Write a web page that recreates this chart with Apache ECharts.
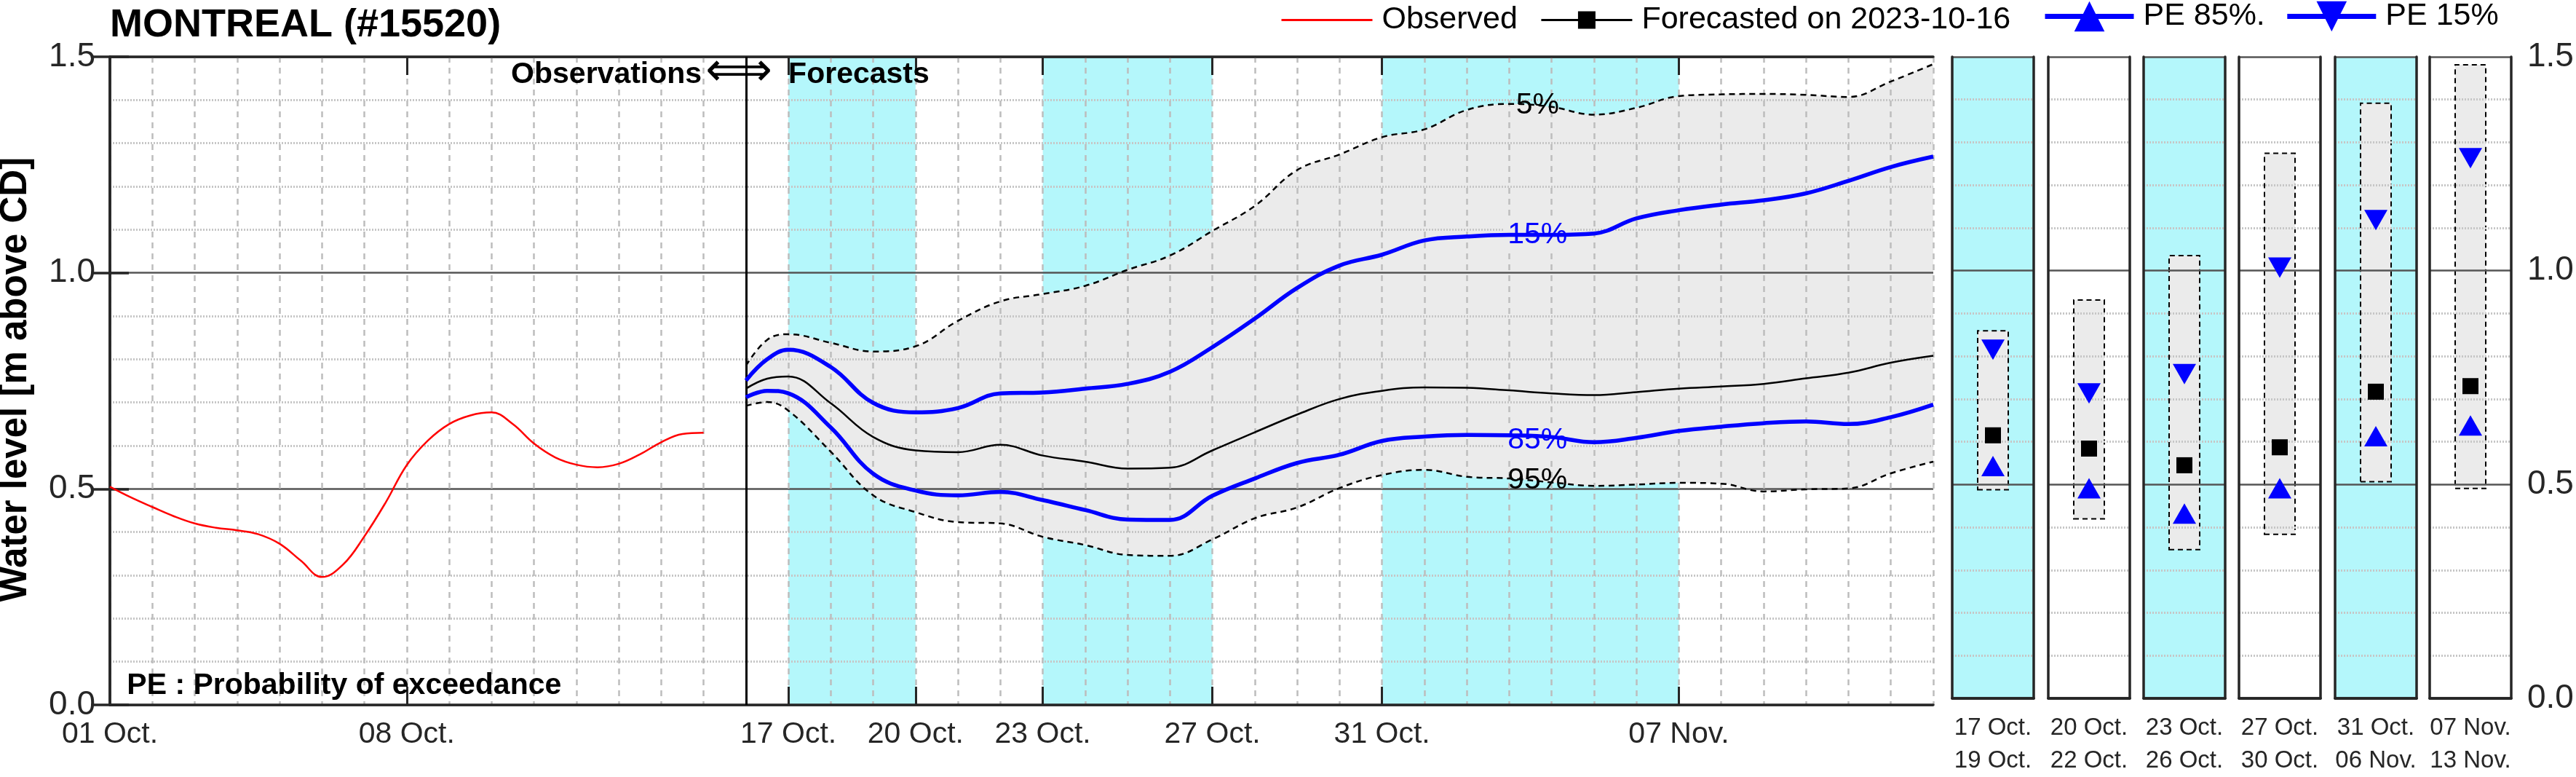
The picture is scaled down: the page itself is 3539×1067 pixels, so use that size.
<!DOCTYPE html>
<html>
<head>
<meta charset="utf-8">
<script src="https://cdn.jsdelivr.net/npm/echarts@6/dist/echarts.min.js"></script>
<style>
    html, body { margin: 0; padding: 0; background: #fff; }
    #main { width: 3539px; height: 1067px; }
</style>
</head>
<body>
<div id="main"></div>
<script type="text/javascript">
    // observed water level, x = day of October (fractional)
    var obsDay = [1, 1.5, 2, 2.5, 3, 3.5, 4, 4.5, 5, 5.5, 6, 6.5, 7, 7.5, 8, 8.5, 9, 9.5, 10, 10.5, 11, 11.5, 12, 12.5, 13, 13.5, 14, 14.5, 15];
    var obsLevel = [0.505, 0.480, 0.458, 0.437, 0.420, 0.410, 0.404, 0.395, 0.373, 0.334, 0.296, 0.325, 0.390, 0.468, 0.555,
                    0.612, 0.650, 0.670, 0.677, 0.650, 0.605, 0.573, 0.556, 0.550, 0.558, 0.580, 0.608, 0.627, 0.630];

    // forecast issued 2023-10-16
    var fcDates = ['2023-10-16 00', '2023-10-16 12', '2023-10-17', '2023-10-18', '2023-10-19', '2023-10-20', '2023-10-21',
                   '2023-10-22', '2023-10-23', '2023-10-24', '2023-10-25', '2023-10-26', '2023-10-27', '2023-10-28',
                   '2023-10-29', '2023-10-30', '2023-10-31', '2023-11-01', '2023-11-02', '2023-11-03', '2023-11-04',
                   '2023-11-05', '2023-11-06', '2023-11-07', '2023-11-08', '2023-11-09', '2023-11-10', '2023-11-11',
                   '2023-11-12', '2023-11-13'];
    var fcP5 = [0.785, 0.845, 0.858, 0.838, 0.818, 0.830, 0.889, 0.934, 0.951, 0.970, 1.007, 1.040, 1.097, 1.155, 1.238,
                1.274, 1.314, 1.332, 1.377, 1.391, 1.384, 1.366, 1.382, 1.409, 1.413, 1.414, 1.412, 1.407, 1.443, 1.483];
    var fcP15 = [0.751, 0.800, 0.822, 0.782, 0.699, 0.677, 0.687, 0.721, 0.723, 0.732, 0.743, 0.771, 0.828, 0.894, 0.965,
                 1.017, 1.042, 1.075, 1.084, 1.088, 1.088, 1.091, 1.126, 1.145, 1.158, 1.168, 1.184, 1.213, 1.245, 1.269];
    var fcMedian = [0.732, 0.755, 0.760, 0.698, 0.620, 0.589, 0.585, 0.602, 0.577, 0.563, 0.547, 0.549, 0.589, 0.631, 0.672,
                    0.708, 0.727, 0.735, 0.734, 0.728, 0.721, 0.717, 0.724, 0.732, 0.737, 0.743, 0.756, 0.769, 0.792, 0.808];
    var fcP85 = [0.712, 0.727, 0.721, 0.642, 0.535, 0.496, 0.485, 0.493, 0.474, 0.451, 0.429, 0.428, 0.484, 0.524, 0.560,
                 0.579, 0.611, 0.621, 0.625, 0.624, 0.620, 0.608, 0.618, 0.634, 0.644, 0.652, 0.656, 0.650, 0.666, 0.695];
    var fcP95 = [0.692, 0.701, 0.681, 0.586, 0.485, 0.446, 0.423, 0.420, 0.389, 0.370, 0.347, 0.345, 0.383, 0.432, 0.457,
                 0.502, 0.532, 0.544, 0.528, 0.524, 0.515, 0.507, 0.510, 0.514, 0.512, 0.494, 0.499, 0.501, 0.536, 0.563];

    // cyan periods
    var bandStart = ['2023-10-17', '2023-10-23', '2023-10-31'];
    var bandEnd = ['2023-10-20', '2023-10-27', '2023-11-07'];

    // x axis labels
    var xLabelDates = ['2023-10-01', '2023-10-08', '2023-10-17', '2023-10-20', '2023-10-23', '2023-10-27', '2023-10-31', '2023-11-07'];
    var xLabelText = ['01 Oct.', '08 Oct.', '17 Oct.', '20 Oct.', '23 Oct.', '27 Oct.', '31 Oct.', '07 Nov.'];
    var axisStart = '2023-10-01';
    var axisEnd = '2023-11-13';
    var forecastDate = '2023-10-16';
    var curveLabelDate = '2023-11-03 16';

    // period summaries (right panels)
    var panelLabels = ['17 Oct.\n19 Oct.', '20 Oct.\n22 Oct.', '23 Oct.\n26 Oct.', '27 Oct.\n30 Oct.', '31 Oct.\n06 Nov.', '07 Nov.\n13 Nov.'];
    var panelLow = [0.486, 0.418, 0.346, 0.382, 0.505, 0.489];
    var panelHigh = [0.861, 0.933, 1.037, 1.276, 1.393, 1.483];
    var panelMedian = [0.615, 0.584, 0.545, 0.587, 0.717, 0.730];
    var panelPE85 = [0.543, 0.491, 0.432, 0.491, 0.613, 0.638];
    var panelPE15 = [0.815, 0.713, 0.758, 1.007, 1.118, 1.263];

    var DAY = 864e5;
    function toTime(s) {
        var p = s.split(/[- :]/);
        return Date.UTC(+p[0], +p[1] - 1, +p[2], +(p[3] || 0));
    }
    var T0 = toTime(axisStart);
    var T1 = toTime(axisEnd);
    // days since the axis start (for the grid/label axis)
    function dayOf(s) { return (toTime(s) - T0) / DAY; }

    var FONT = 'Liberation Sans, Arial, sans-serif';
    var FRAME = '#262626';
    var CYAN = '#b4f7fb';
    var GRAY = '#ebebeb';
    var BLUE = '#0000ff';
    var DOWN_TRI = 'path://M0,0L2,0L1,2Z';

    var obsData = obsDay.map(function (d, i) { return [T0 + (d - 1) * DAY, obsLevel[i]]; });
    var fcT = fcDates.map(toTime);
    function pairs(vals) { return fcT.map(function (t, i) { return [t, vals[i]]; }); }
    var labelDays = xLabelDates.map(dayOf);
    var tickDays = labelDays.slice(1);
    var curveT = toTime(curveLabelDate);
    var nDays = (T1 - T0) / DAY;

    var minorLine = { show: true, lineStyle: { color: '#c6c6c6', type: [2, 2], width: 3 } };
    var majorLine = { show: true, lineStyle: { color: '#555', width: 2.5 } };
    var frameLine = { show: true, lineStyle: { color: FRAME, width: 3.5 } };

    var grids = [{ left: 151, top: 78, width: 2505, height: 890 }];
    var panelLefts = [2682, 2814, 2945, 3076, 3208, 3338];

    var xAxes = [
        {   // daily grid lines + bottom frame
            gridIndex: 0, type: 'value', min: 0, max: nDays, interval: 1, position: 'bottom', z: 3,
            axisLine: frameLine, axisTick: { show: false }, axisLabel: { show: false },
            splitLine: { show: true, lineStyle: { color: '#bdbdbd', type: [8, 7], width: 2.5 } }
        },
        {   // labels + ticks
            gridIndex: 0, type: 'value', min: 0, max: nDays, position: 'bottom', z: 3,
            axisLine: { show: false }, splitLine: { show: false },
            axisTick: { customValues: tickDays, inside: true, length: 25, lineStyle: { color: FRAME, width: 3 } },
            axisLabel: {
                customValues: labelDays, fontSize: 41, fontFamily: FONT, color: FRAME, margin: 20,
                formatter: function (v) {
                    for (var i = 0; i < labelDays.length; i++) if (Math.abs(labelDays[i] - v) < 1e-6) return xLabelText[i];
                    return '';
                }
            }
        },
        {   // top frame
            gridIndex: 0, type: 'value', min: 0, max: nDays, position: 'top', z: 3,
            axisLine: frameLine, splitLine: { show: false }, axisLabel: { show: false },
            axisTick: { customValues: tickDays, inside: true, length: 25, lineStyle: { color: FRAME, width: 3 } }
        },
        {   // hidden time axis carrying the series
            gridIndex: 0, type: 'time', min: T0, max: T1, show: false
        }
    ];
    var TX = 3;
    var yAxes = [
        {
            gridIndex: 0, type: 'value', min: 0, max: 1.5, interval: 0.5, position: 'left', z: 3,
            axisLine: frameLine,
            axisTick: { inside: true, length: 26, lineStyle: { color: FRAME, width: 3.5 } },
            axisLabel: { fontSize: 46, fontFamily: FONT, color: FRAME, margin: 20, formatter: function (v) { return v.toFixed(1); } },
            splitLine: majorLine, minorTick: { show: false, splitNumber: 5 }, minorSplitLine: minorLine
        },
        {
            gridIndex: 0, type: 'value', min: 0, max: 1.5, interval: 0.5, position: 'right', z: 3,
            axisLine: frameLine,
            axisTick: { inside: true, length: 26, lineStyle: { color: FRAME, width: 3.5 } },
            axisLabel: { show: false }, splitLine: { show: false }
        }
    ];

    var series = [
        {   // cyan periods, obs/forecast divider and notes
            type: 'line', xAxisIndex: TX, yAxisIndex: 0, data: [[T0, 0]], showSymbol: false, z: 1,
            lineStyle: { opacity: 0 }, silent: true,
            markArea: {
                silent: true, itemStyle: { color: CYAN },
                data: bandStart.map(function (s, i) { return [{ xAxis: toTime(s) }, { xAxis: toTime(bandEnd[i]) }]; })
            },
            markLine: {
                silent: true, symbol: ['none', 'none'], label: { show: false },
                lineStyle: { color: '#000', width: 3, type: 'solid' },
                data: [{ xAxis: toTime(forecastDate) }]
            },
            markPoint: {
                silent: true, symbolSize: 0,
                data: [
                    { coord: [toTime('2023-10-14 23'), 1.458], label: { formatter: 'Observations', position: 'left', distance: 0 } },
                    { coord: [toTime('2023-10-15 20'), 1.462], label: { formatter: '\u27FA', position: 'inside', fontWeight: 'normal', fontFamily: 'DejaVu Sans', fontSize: 64 } },
                    { coord: [toTime('2023-10-17'), 1.458], label: { formatter: 'Forecasts', position: 'right', distance: 0 } },
                    { coord: [T0 + 0.4 * DAY, 0.045], label: { formatter: 'PE : Probability of exceedance', position: 'right', distance: 0 } }
                ],
                label: { show: true, fontSize: 41, fontWeight: 'bold', fontFamily: FONT, color: '#000' }
            }
        },
        {   // 5-95% envelope
            type: 'line', xAxisIndex: TX, yAxisIndex: 0, data: pairs(fcP95), stack: 'env', smooth: 0.4,
            showSymbol: false, lineStyle: { width: 0 }, z: 2, silent: true
        },
        {
            type: 'line', xAxisIndex: TX, yAxisIndex: 0, stack: 'env', smooth: 0.4, showSymbol: false, z: 2, silent: true,
            data: fcT.map(function (t, i) { return [t, +(fcP5[i] - fcP95[i]).toFixed(3)]; }),
            lineStyle: { width: 0 }, areaStyle: { color: GRAY, opacity: 1 }
        },
        {
            name: 'Observed', type: 'line', xAxisIndex: TX, yAxisIndex: 0, data: obsData, smooth: 0.4,
            showSymbol: false, z: 5, itemStyle: { color: '#ff0000' }, lineStyle: { color: '#ff0000', width: 2.5 }
        },
        {
            type: 'line', xAxisIndex: TX, yAxisIndex: 0, data: pairs(fcP5), smooth: 0.4, showSymbol: false, z: 5,
            lineStyle: { color: '#000', width: 2.5, type: [8, 6] },
            markPoint: { symbolSize: 0, silent: true, data: [{ coord: [curveT, 1.388] }],
                label: { show: true, position: 'inside', formatter: '5%', fontSize: 41, fontFamily: FONT, color: '#000' } }
        },
        {
            type: 'line', xAxisIndex: TX, yAxisIndex: 0, data: pairs(fcP95), smooth: 0.4, showSymbol: false, z: 5,
            lineStyle: { color: '#000', width: 2.5, type: [8, 6] },
            markPoint: { symbolSize: 0, silent: true, data: [{ coord: [curveT, 0.519] }],
                label: { show: true, position: 'inside', formatter: '95%', fontSize: 41, fontFamily: FONT, color: '#000' } }
        },
        {
            name: 'Forecasted on 2023-10-16', type: 'line', xAxisIndex: TX, yAxisIndex: 0, data: pairs(fcMedian), smooth: 0.4,
            symbol: 'rect', showSymbol: false, z: 5, itemStyle: { color: '#000', opacity: 1 }, lineStyle: { color: '#000', width: 2.5 }
        },
        {
            name: 'PE 85%.', type: 'line', xAxisIndex: TX, yAxisIndex: 0, data: pairs(fcP85), smooth: 0.4,
            symbol: 'triangle', showSymbol: false, z: 6, itemStyle: { color: BLUE, opacity: 1 }, lineStyle: { color: BLUE, width: 5.5 },
            markPoint: { symbolSize: 0, silent: true, data: [{ coord: [curveT, 0.612] }],
                label: { show: true, position: 'inside', formatter: '85%', fontSize: 41, fontFamily: FONT, color: BLUE,
                         backgroundColor: GRAY, padding: [2, 6] } }
        },
        {
            name: 'PE 15%', type: 'line', xAxisIndex: TX, yAxisIndex: 0, data: pairs(fcP15), smooth: 0.4,
            symbol: DOWN_TRI, showSymbol: false, z: 6, itemStyle: { color: BLUE, opacity: 1 }, lineStyle: { color: BLUE, width: 5.5 },
            markPoint: { symbolSize: 0, silent: true, data: [{ coord: [curveT, 1.087] }],
                label: { show: true, position: 'inside', formatter: '15%', fontSize: 41, fontFamily: FONT, color: BLUE,
                         backgroundColor: GRAY, padding: [2, 6] } }
        }
    ];

    // right-hand period panels
    for (var i = 0; i < panelLabels.length; i++) {
        var g = i + 1;
        grids.push({ left: panelLefts[i], top: 78, width: 112, height: 890, show: true,
                     backgroundColor: i % 2 === 0 ? CYAN : '#fff', borderWidth: 0 });
        var xb = xAxes.length, yl = yAxes.length;
        xAxes.push({
            gridIndex: g, type: 'category', data: [panelLabels[i]], position: 'bottom', z: 3,
            axisLine: frameLine,
            axisTick: { inside: true, alignWithLabel: true, length: 12, lineStyle: { color: FRAME, width: 3 } },
            axisLabel: { fontSize: 33, lineHeight: 45, fontFamily: FONT, color: FRAME, margin: 18 }
        });
        xAxes.push({
            gridIndex: g, type: 'category', data: [panelLabels[i]], position: 'top', z: 3,
            axisLine: frameLine, axisLabel: { show: false },
            axisTick: { inside: true, alignWithLabel: true, length: 12, lineStyle: { color: FRAME, width: 3 } }
        });
        yAxes.push({
            gridIndex: g, type: 'value', min: 0, max: 1.5, interval: 0.5, position: 'left', z: 3,
            axisLine: frameLine, axisTick: { inside: true, length: 9, lineStyle: { color: FRAME, width: 3.5 } },
            axisLabel: { show: false }, splitLine: majorLine, minorTick: { show: false, splitNumber: 5 }, minorSplitLine: minorLine
        });
        yAxes.push({
            gridIndex: g, type: 'value', min: 0, max: 1.5, interval: 0.5, position: 'right', z: 3,
            axisLine: frameLine, axisTick: { inside: true, length: 9, lineStyle: { color: FRAME, width: 3.5 } },
            splitLine: { show: false },
            axisLabel: { show: i === panelLabels.length - 1, fontSize: 46, fontFamily: FONT, color: FRAME, margin: 22,
                         formatter: function (v) { return v.toFixed(1); } }
        });
        series.push({
            type: 'bar', xAxisIndex: xb, yAxisIndex: yl, stack: 'box' + i, barWidth: 44, silent: true, z: 2,
            data: [panelLow[i]], itemStyle: { color: 'rgba(0,0,0,0)' }
        });
        series.push({
            type: 'bar', xAxisIndex: xb, yAxisIndex: yl, stack: 'box' + i, barWidth: 44, silent: true, z: 2,
            data: [+(panelHigh[i] - panelLow[i]).toFixed(3)],
            itemStyle: { color: GRAY, borderColor: '#000', borderWidth: 2, borderType: [7, 5] }
        });
        series.push({
            name: 'Forecasted on 2023-10-16', type: 'scatter', xAxisIndex: xb, yAxisIndex: yl, z: 6,
            data: [panelMedian[i]], symbol: 'rect', symbolSize: 22, itemStyle: { color: '#000', opacity: 1 }
        });
        series.push({
            name: 'PE 85%.', type: 'scatter', xAxisIndex: xb, yAxisIndex: yl, z: 6,
            data: [panelPE85[i]], symbol: 'triangle', symbolSize: [32, 28], itemStyle: { color: BLUE, opacity: 1 }
        });
        series.push({
            name: 'PE 15%', type: 'scatter', xAxisIndex: xb, yAxisIndex: yl, z: 6,
            data: [panelPE15[i]], symbol: DOWN_TRI, symbolSize: [32, 28], itemStyle: { color: BLUE, opacity: 1 }
        });
    }

    var myChart = echarts.init(document.getElementById('main'), null, { renderer: 'canvas' });
    var option = {
        animation: false,
        backgroundColor: '#fff',
        title: {
            text: 'MONTREAL (#15520)', left: 151, top: 8, padding: 0,
            textStyle: { fontSize: 54, fontWeight: 'bold', fontFamily: FONT, color: '#000' }
        },
        legend: [
            {
                data: [{ name: 'Observed', itemStyle: { opacity: 0 } }, 'Forecasted on 2023-10-16'],
                left: 1759, top: 6, padding: 0, itemWidth: 125, itemHeight: 30, itemGap: 31, selectedMode: false,
                lineStyle: { width: 3 },
                textStyle: { fontSize: 43, fontFamily: FONT, color: '#000', padding: [0, 0, 0, 8] }
            },
            {
                data: ['PE 85%.', 'PE 15%'],
                left: 2806, top: 1, padding: 0, itemWidth: 122, itemHeight: 52, itemGap: 27, selectedMode: false,
                lineStyle: { width: 7 },
                textStyle: { fontSize: 43, fontFamily: FONT, color: '#000', padding: [0, 0, 0, 8] }
            }
        ],
        graphic: [{
            type: 'text', x: 22, y: 521, rotation: Math.PI / 2,
            style: { text: 'Water level [m above CD]', textAlign: 'center', textVerticalAlign: 'middle',
                     font: 'bold 51px ' + FONT, fill: '#000' }
        }],
        grid: grids,
        xAxis: xAxes,
        yAxis: yAxes,
        series: series
    };
    myChart.setOption(option);
</script>
</body>
</html>
